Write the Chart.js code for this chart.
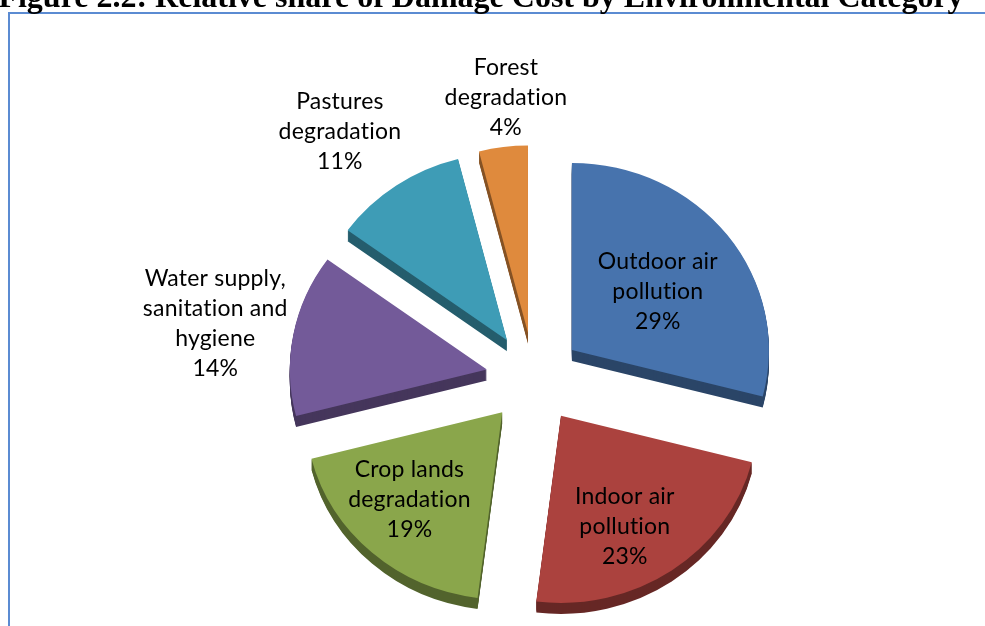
<!DOCTYPE html>
<html>
<head>
<meta charset="utf-8">
<script src="https://cdn.jsdelivr.net/npm/chart.js@4/dist/chart.umd.min.js"></script>
<style>
  html, body { margin: 0; padding: 0; background: #fff; }
  #wrap { position: relative; width: 985px; height: 626px; overflow: hidden; }
  canvas { display: block; }
</style>
</head>
<body>
<div id="wrap"><canvas id="c" width="985" height="626"></canvas></div>
<script>
// Damage cost shares by environmental category (percent)
const categories = [
  ['Outdoor air', 'pollution'],
  ['Indoor air', 'pollution'],
  ['Crop lands', 'degradation'],
  ['Water supply,', 'sanitation and', 'hygiene'],
  ['Pastures', 'degradation'],
  ['Forest', 'degradation']
];
const shares = [29, 23, 19, 14, 11, 4];
const sliceColors = ['#4773ad', '#ab423e', '#8aa64b', '#735a99', '#3e9cb6', '#df8a3d'];

const TITLE = 'Figure 2.2: Relative share of Damage Cost by Environmental Category';
const RADIUS = 197;      // pie radius before tilt
const TILT = 0.95;       // vertical squash of the tilted pie
const EXPLODE = 48;      // distance each slice is pulled out
const DEPTH = 11;        // thickness of the extruded side
// label placement: distance (multiple of the radius) and turn (degrees) from each slice's middle
const labelReach = [0.535, 0.675, 0.665, 1.40, 1.40, 1.26];
const labelTurn = [2.4, 5.5, 3.7, -0.8, -3.1, 2.1];

function sliceFrame(ctx, arc, shiftY) {
  const mid = (arc.startAngle + arc.endAngle) / 2;
  ctx.translate(arc.x, arc.y + shiftY);
  ctx.scale(1, TILT);
  ctx.translate(-arc.x + Math.cos(mid) * EXPLODE, -arc.y + Math.sin(mid) * EXPLODE);
}

const pie3d = {
  id: 'pie3d',
  beforeDatasetDraw(chart, args) {
    const ctx = chart.ctx;
    const arcs = args.meta.data;
    // extruded sides, darker
    arcs.forEach(arc => {
      ctx.save();
      ctx.filter = 'brightness(0.6)';
      for (let k = DEPTH; k >= 1; k--) {
        ctx.save();
        sliceFrame(ctx, arc, k);
        arc.draw(ctx);
        ctx.restore();
      }
      ctx.restore();
    });
    // top faces
    arcs.forEach(arc => {
      ctx.save();
      sliceFrame(ctx, arc, 0);
      arc.draw(ctx);
      ctx.restore();
    });
    return false;
  },
  afterDatasetsDraw(chart) {
    const ctx = chart.ctx;
    const arcs = chart.getDatasetMeta(0).data;
    ctx.save();
    ctx.fillStyle = '#000';
    ctx.font = '23px Lato';
    ctx.letterSpacing = '0.2px';
    ctx.textAlign = 'center';
    ctx.textBaseline = 'middle';
    const lineH = 30;
    arcs.forEach((arc, i) => {
      const mid = (arc.startAngle + arc.endAngle) / 2;
      const ang = mid + labelTurn[i] * Math.PI / 180;
      const cx = arc.x + Math.cos(mid) * EXPLODE;
      const cy = arc.y + Math.sin(mid) * EXPLODE * TILT;
      const r = labelReach[i] * RADIUS;
      const x = cx + Math.cos(ang) * r;
      const y = cy + Math.sin(ang) * r * TILT;
      const lines = categories[i].concat([shares[i] + '%']);
      const y0 = y - (lines.length - 1) * lineH / 2;
      lines.forEach((t, j) => ctx.fillText(t, x, y0 + j * lineH));
    });
    ctx.restore();

    // frame line and figure caption
    ctx.save();
    ctx.strokeStyle = '#5b8bd2';
    ctx.lineWidth = 2;
    ctx.beginPath();
    ctx.moveTo(9, 640);
    ctx.lineTo(9, 13);
    ctx.lineTo(1000, 13);
    ctx.stroke();
    ctx.fillStyle = '#000';
    ctx.font = 'bold 32px "Liberation Serif"';
    ctx.textAlign = 'center';
    ctx.textBaseline = 'alphabetic';
    ctx.fillText(TITLE, 481, 7);
    ctx.restore();
  }
};

new Chart(document.getElementById('c'), {
  type: 'pie',
  data: {
    labels: categories,
    datasets: [{
      data: shares,
      backgroundColor: sliceColors,
      borderWidth: 0
    }]
  },
  options: {
    responsive: false,
    animation: false,
    radius: RADIUS,
    layout: { padding: { left: 83, right: 0, top: 130, bottom: 0 } },
    plugins: {
      legend: { display: false },
      tooltip: { enabled: false },
      title: { display: false }
    }
  },
  plugins: [pie3d]
});
</script>
</body>
</html>
